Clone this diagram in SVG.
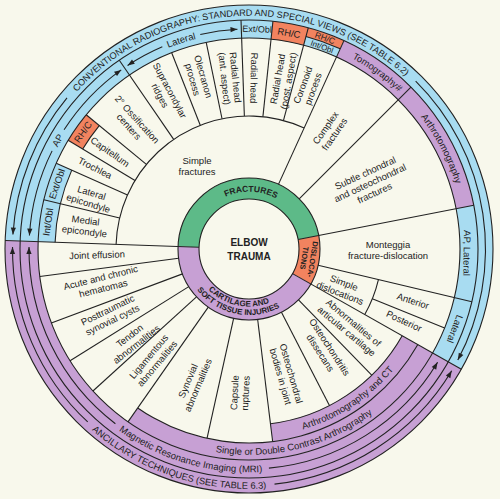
<svg xmlns="http://www.w3.org/2000/svg" width="500" height="499" viewBox="0 0 500 499">
<style>
.ln{fill:none;stroke:#222;stroke-width:1.1}
.f{fill:none}
.bl{stroke:#a8dcf1}
.pu{stroke:#c7a0d4}
.or{stroke:#f2835f}
.gr{stroke:#5dba88}
.t{font-family:"Liberation Sans",Arial,Helvetica,sans-serif;font-size:9.5px;fill:#222;text-anchor:middle}
.b{font-weight:bold}
.ah{fill:#222;stroke:none}
</style>
<defs>
<path id="c233" d="M-233.2 0A233.2 233.2 0 1 1 233.2 0A233.2 233.2 0 1 1 -233.2 0"/>
<path id="c217" d="M-216.7 0A216.7 216.7 0 1 1 216.7 0A216.7 216.7 0 1 1 -216.7 0"/>
<path id="c57" d="M-57.3 0A57.3 57.3 0 1 1 57.3 0A57.3 57.3 0 1 1 -57.3 0"/>
<path id="a240" d="M-239.8 0A239.8 239.8 0 1 0 239.8 0A239.8 239.8 0 1 0 -239.8 0"/>
<path id="a223" d="M-223.3 0A223.3 223.3 0 1 0 223.3 0A223.3 223.3 0 1 0 -223.3 0"/>
<path id="a206" d="M-205.8 0A205.8 205.8 0 1 0 205.8 0A205.8 205.8 0 1 0 -205.8 0"/>
<path id="a188" d="M-188.3 0A188.3 188.3 0 1 0 188.3 0A188.3 188.3 0 1 0 -188.3 0"/>
<path id="a58" d="M-57.5 0A57.5 57.5 0 1 0 57.5 0A57.5 57.5 0 1 0 -57.5 0"/>
<path id="a66" d="M-66 0A66 66 0 1 0 66 0A66 66 0 1 0 -66 0"/>
<path id="hi" class="ah" d="M0 0l-2.6 7h5.2z"/>
<path id="hd" class="ah" d="M0 0l-2.6 -7h5.2z"/>
</defs>
<rect width="500" height="499" fill="#f8f8ec"/>
<g transform="translate(249 249)">
<g id="bands">
<circle r="227.5" class="f bl" stroke-width="33" pathLength="360" stroke-dasharray="207.5 360" transform="rotate(-178)"/>
<circle r="227.5" class="f pu" stroke-width="33" pathLength="360" stroke-dasharray="152.5 360" transform="rotate(-330.5)"/>
<circle r="202.5" class="f pu" stroke-width="17" pathLength="360" stroke-dasharray="95.5 360" transform="rotate(-330.5)"/>
<circle r="185" class="f pu" stroke-width="18" pathLength="360" stroke-dasharray="53.5 360" transform="rotate(-330.5)"/>
<circle r="202.5" class="f bl" stroke-width="17" pathLength="360" stroke-dasharray="22 360" transform="rotate(-178)"/>
<circle r="202.5" class="f or" stroke-width="17" pathLength="360" stroke-dasharray="8.5 360" transform="rotate(-149)"/>
<circle r="220" class="f pu" stroke-width="18" pathLength="360" stroke-dasharray="54.5 360" transform="rotate(-65.5)"/>
<circle r="220" class="f or" stroke-width="18" pathLength="360" stroke-dasharray="9 360" transform="rotate(-84)"/>
<circle r="224.5" class="f or" stroke-width="9" pathLength="360" stroke-dasharray="9.5 360" transform="rotate(-75)"/>
<circle r="60.5" class="f gr" stroke-width="21" pathLength="360" stroke-dasharray="167 360" transform="rotate(-178)"/>
<circle r="60.5" class="f or" stroke-width="21" pathLength="360" stroke-dasharray="40.5 360" transform="rotate(-11)"/>
<circle r="60.5" class="f pu" stroke-width="21" pathLength="360" stroke-dasharray="152.5 360" transform="rotate(-330.5)"/>
</g>
<g id="connectors" class="ln">
<circle r="244"/><circle r="229"/><circle r="211"/><circle r="71"/><circle r="50"/>
<circle r="194" pathLength="360" stroke-dasharray="22 360" transform="rotate(-178)"/>
<circle r="194" pathLength="360" stroke-dasharray="8.5 360" transform="rotate(-149)"/>
<circle r="194" pathLength="360" stroke-dasharray="95.5 360" transform="rotate(-330.5)"/>
<circle r="176" pathLength="360" stroke-dasharray="53.5 360" transform="rotate(-330.5)"/>
<circle r="133" pathLength="360" stroke-dasharray="112.5 360" transform="rotate(-178)"/>
<circle r="133" pathLength="360" stroke-dasharray="16.2 360" transform="rotate(13.3)"/>
<circle r="220" pathLength="360" stroke-dasharray="9.5 360" transform="rotate(-75)"/>
<line x1="50" x2="244" transform="rotate(-178)"/>
<line x1="133" x2="211" transform="rotate(-166.5)"/>
<line x1="133" x2="211" transform="rotate(-156)"/>
<line x1="133" x2="211" transform="rotate(-149)"/>
<line x1="133" x2="211" transform="rotate(-140.5)"/>
<line x1="133" x2="229" transform="rotate(-124.5)"/>
<line x1="133" x2="211" transform="rotate(-111.5)"/>
<line x1="133" x2="211" transform="rotate(-101.7)"/>
<line x1="133" x2="229" transform="rotate(-92)"/>
<line x1="133" x2="229" transform="rotate(-84)"/>
<line x1="133" x2="229" transform="rotate(-75)"/>
<line x1="71" x2="229" transform="rotate(-65.5)"/>
<line x1="71" x2="229" transform="rotate(-45)"/>
<line x1="50" x2="229" transform="rotate(-11)"/>
<line x1="71" x2="229" transform="rotate(13.3)"/>
<line x1="133" x2="211" transform="rotate(22)"/>
<line x1="50" x2="244" transform="rotate(29.5)"/>
<line x1="71" x2="211" transform="rotate(-187.5)"/>
<line x1="71" x2="211" transform="rotate(-200.5)"/>
<line x1="71" x2="211" transform="rotate(-212)"/>
<line x1="71" x2="211" transform="rotate(-222.3)"/>
<line x1="71" x2="211" transform="rotate(-235)"/>
<line x1="71" x2="194" transform="rotate(-257.5)"/>
<line x1="71" x2="194" transform="rotate(-277)"/>
<line x1="71" x2="176" transform="rotate(-297.2)"/>
<line x1="71" x2="176" transform="rotate(-314.2)"/>
<circle r="236.5" pathLength="360" stroke-dasharray="36.2 360" transform="rotate(-176.5)"/>
<circle r="236.5" pathLength="360" stroke-dasharray="73.2 360" transform="rotate(-45.2)"/>
<circle r="236.5" pathLength="360" stroke-dasharray="47.5 360" transform="rotate(-227)"/>
<circle r="236.5" pathLength="360" stroke-dasharray="52.8 360" transform="rotate(-329)"/>
<circle r="220" pathLength="360" stroke-dasharray="53.1 360" transform="rotate(-232.6)"/>
<circle r="220" pathLength="360" stroke-dasharray="53.8 360" transform="rotate(-329)"/>
<circle r="220" pathLength="360" stroke-dasharray="21.7 360" transform="rotate(-147.2)"/>
<circle r="220" pathLength="360" stroke-dasharray="23 360" transform="rotate(-176.5)"/>
<circle r="220" pathLength="360" stroke-dasharray="10.3 360" transform="rotate(-123.5)"/>
<circle r="220" pathLength="360" stroke-dasharray="9.8 360" transform="rotate(-102.8)"/>
<use href="#hi" transform="rotate(-176.5) translate(236.5 0)"/>
<use href="#hi" transform="rotate(-176.5) translate(220 0)"/>
<use href="#hd" transform="rotate(-179.5) translate(220 0)"/>
<use href="#hd" transform="rotate(-179.5) translate(236.5 0)"/>
<use href="#hd" transform="rotate(28) translate(236.5 0)"/>
<use href="#hi" transform="rotate(31) translate(220 0)"/>
<use href="#hi" transform="rotate(31) translate(236.5 0)"/>
<use href="#hd" transform="rotate(-125.5) translate(220 0)"/>
<use href="#hi" transform="rotate(-123.5) translate(220 0)"/>
<use href="#hd" transform="rotate(-93) translate(220 0)"/>
</g>
<g id="arc-labels">
<text class="t" style="font-size:9.2px"><textPath href="#c233" startOffset="24.24%">CONVENTIONAL RADIOGRAPHY: STANDARD AND SPECIAL VIEWS (SEE TABLE 6.2)</textPath></text>
<text class="t"><textPath href="#c217" startOffset="8.22%">AP</textPath></text>
<text class="t"><textPath href="#c217" startOffset="20%">Lateral</textPath></text>
<text class="t"><textPath href="#c217" startOffset="35%">Tomography#</textPath></text>
<text class="t"><textPath href="#c217" startOffset="42.36%">Arthrotomography</textPath></text>
<text class="t" style="font-size:9.3px"><textPath href="#a240" startOffset="19.89%">ANCILLARY TECHNIQUES (SEE TABLE 6.3)</textPath></text>
<text class="t"><textPath href="#a223" startOffset="20.53%">Magnetic Resonance Imaging (MRI)</textPath></text>
<text class="t"><textPath href="#a206" startOffset="28.82%">Single or Double Contrast Arthrography</textPath></text>
<text class="t"><textPath href="#a188" startOffset="34.29%">Arthrotomography and CT</textPath></text>
</g>
<g id="fractures"><text class="t b" style="font-size:8.5px"><textPath href="#c57" startOffset="25.56%">FRACTURES</textPath></text></g>
<g id="cartilage"><text class="t b" style="font-size:8px"><textPath href="#a58" startOffset="21.67%">CARTILAGE AND</textPath></text>
<text class="t b" style="font-size:8px"><textPath href="#a66" startOffset="21.67%">SOFT TISSUE INJURIES</textPath></text></g>
</g>
<g id="dislocations"><text class="t b" style="font-size:7.5px" transform="translate(308.7 258.7) rotate(99)"><tspan x="0" y="-1.5">DISLOCA-</tspan><tspan x="0" y="7">TIONS</tspan></text></g>
<g id="center"><text class="t b" style="font-size:10px" x="249" y="246">ELBOW</text><text class="t b" style="font-size:10px" x="249" y="260">TRAUMA</text></g>
<g id="cells">
<g id="simple-fractures"><text class="t" transform="translate(197 166.5)"><tspan x="0" y="-2.2">Simple</tspan><tspan x="0" y="8.8">fractures</tspan></text></g>
<g id="medial"><text class="t" transform="translate(85 226) rotate(7)"><tspan x="0" y="-2.2">Medial</tspan><tspan x="0" y="8.8">epicondyle</tspan></text></g>
<g id="lateral-epi"><text class="t" transform="translate(90 198) rotate(17)"><tspan x="0" y="-2.2">Lateral</tspan><tspan x="0" y="8.8">epicondyle</tspan></text></g>
<g id="trochlea"><text class="t" transform="translate(95 168) rotate(27)" y="3.3">Trochlea</text></g>
<g id="capitellum"><text class="t" transform="translate(110 152) rotate(35)" y="3.3">Capitellum</text></g>
<g id="ossification"><text class="t" transform="translate(133 123) rotate(48)"><tspan x="0" y="-2.2">2° Ossification</tspan><tspan x="0" y="8.8">centers</tspan></text></g>
<g id="supracondylar"><text class="t" transform="translate(165 93) rotate(62)"><tspan x="0" y="-2.2">Supracondylar</tspan><tspan x="0" y="8.8">ridges</tspan></text></g>
<g id="olecranon"><text class="t" transform="translate(198 78) rotate(74)"><tspan x="0" y="-2.2">Olecranon</tspan><tspan x="0" y="8.8">process</tspan></text></g>
<g id="rh-ant"><text class="t" transform="translate(230 78) rotate(84)"><tspan x="0" y="-2.2">Radial head</tspan><tspan x="0" y="8.8">(ant. aspect)</tspan></text></g>
<g id="rh"><text class="t" transform="translate(254 78) rotate(91)" y="3.3">Radial head</text></g>
<g id="rh-post"><text class="t" transform="translate(283 80) rotate(-80)"><tspan x="0" y="-2.2">Radial head</tspan><tspan x="0" y="8.8">(post. aspect)</tspan></text></g>
<g id="coronoid"><text class="t" transform="translate(308 87) rotate(-70)"><tspan x="0" y="-2.2">Coronoid</tspan><tspan x="0" y="8.8">process</tspan></text></g>
<g id="complex"><text class="t" transform="translate(330 131) rotate(-55)"><tspan x="0" y="-2.2">Complex</tspan><tspan x="0" y="8.8">fractures</tspan></text></g>
<g id="subtle"><text class="t" transform="translate(370 183) rotate(-25)"><tspan x="0" y="-7.7">Subtle chondral</tspan><tspan x="0" y="3.3">and osteochondral</tspan><tspan x="0" y="14.3">fractures</tspan></text></g>
<g id="monteggia"><text class="t" transform="translate(388 250)"><tspan x="0" y="-2.2">Monteggia</tspan><tspan x="0" y="8.8">fracture-dislocation</tspan></text></g>
<g id="simple-disl"><text class="t" transform="translate(342 288) rotate(21)"><tspan x="0" y="-2.2">Simple</tspan><tspan x="0" y="8.8">dislocations</tspan></text></g>
<g id="anterior"><text class="t" transform="translate(413 301) rotate(18)" y="3.3">Anterior</text></g>
<g id="posterior"><text class="t" transform="translate(404 321) rotate(25)" y="3.3">Posterior</text></g>
<g id="articular"><text class="t" transform="translate(350 327) rotate(40)"><tspan x="0" y="-2.2">Abnormalities of</tspan><tspan x="0" y="8.8">articular cartilage</tspan></text></g>
<g id="osteochondritis"><text class="t" transform="translate(325 350) rotate(57)"><tspan x="0" y="-2.2">Osteochondritis</tspan><tspan x="0" y="8.8">dissecans</tspan></text></g>
<g id="bodies"><text class="t" transform="translate(286 375) rotate(74)"><tspan x="0" y="-2.2">Osteochondral</tspan><tspan x="0" y="8.8">bodies in joint</tspan></text></g>
<g id="capsule"><text class="t" transform="translate(240 393) rotate(-87)"><tspan x="0" y="-2.2">Capsule</tspan><tspan x="0" y="8.8">ruptures</tspan></text></g>
<g id="synovial"><text class="t" transform="translate(193 383) rotate(-67)"><tspan x="0" y="-2.2">Synovial</tspan><tspan x="0" y="8.8">abnormalities</tspan></text></g>
<g id="ligamentous"><text class="t" transform="translate(153 360) rotate(-50)"><tspan x="0" y="-2.2">Ligamentous</tspan><tspan x="0" y="8.8">abnormalities</tspan></text></g>
<g id="tendon"><text class="t" transform="translate(133 340) rotate(-38)"><tspan x="0" y="-2.2">Tendon</tspan><tspan x="0" y="8.8">abnormalities</tspan></text></g>
<g id="cysts"><text class="t" transform="translate(110 315) rotate(-26)"><tspan x="0" y="-2.2">Posttraumatic</tspan><tspan x="0" y="8.8">synovial cysts</tspan></text></g>
<g id="hematomas"><text class="t" transform="translate(102 283) rotate(-14)"><tspan x="0" y="-2.2">Acute and chronic</tspan><tspan x="0" y="8.8">hematomas</tspan></text></g>
<g id="effusion"><text class="t" transform="translate(97 255) rotate(-2)" y="3.3">Joint effusion</text></g>
</g>
<g id="views">
<text class="t" transform="translate(48 222) rotate(-82)" y="3.3">Int/Obl</text>
<text class="t" transform="translate(57 184) rotate(-71)" y="3.3">Ext/Obl</text>
<text class="t" transform="translate(83 132) rotate(-55)" y="3.3">RH/C</text>
<text class="t" style="font-size:9px" transform="translate(257 29) rotate(2)" y="3.2">Ext/Obl</text>
<text class="t" transform="translate(289 33) rotate(10)" y="3.3">RH/C</text>
<text class="t" style="font-size:8.5px" transform="translate(325 38) rotate(20)" y="3">RH/C</text>
<text class="t" style="font-size:8px" transform="translate(322 46.5) rotate(20)" y="2.9">Int/Obl</text>
<text class="t" transform="translate(467 253) rotate(91)" y="3.3">AP, Lateral</text>
<text class="t" transform="translate(455 329) rotate(111)" y="3.3">Lateral</text>
</g>
</svg>
